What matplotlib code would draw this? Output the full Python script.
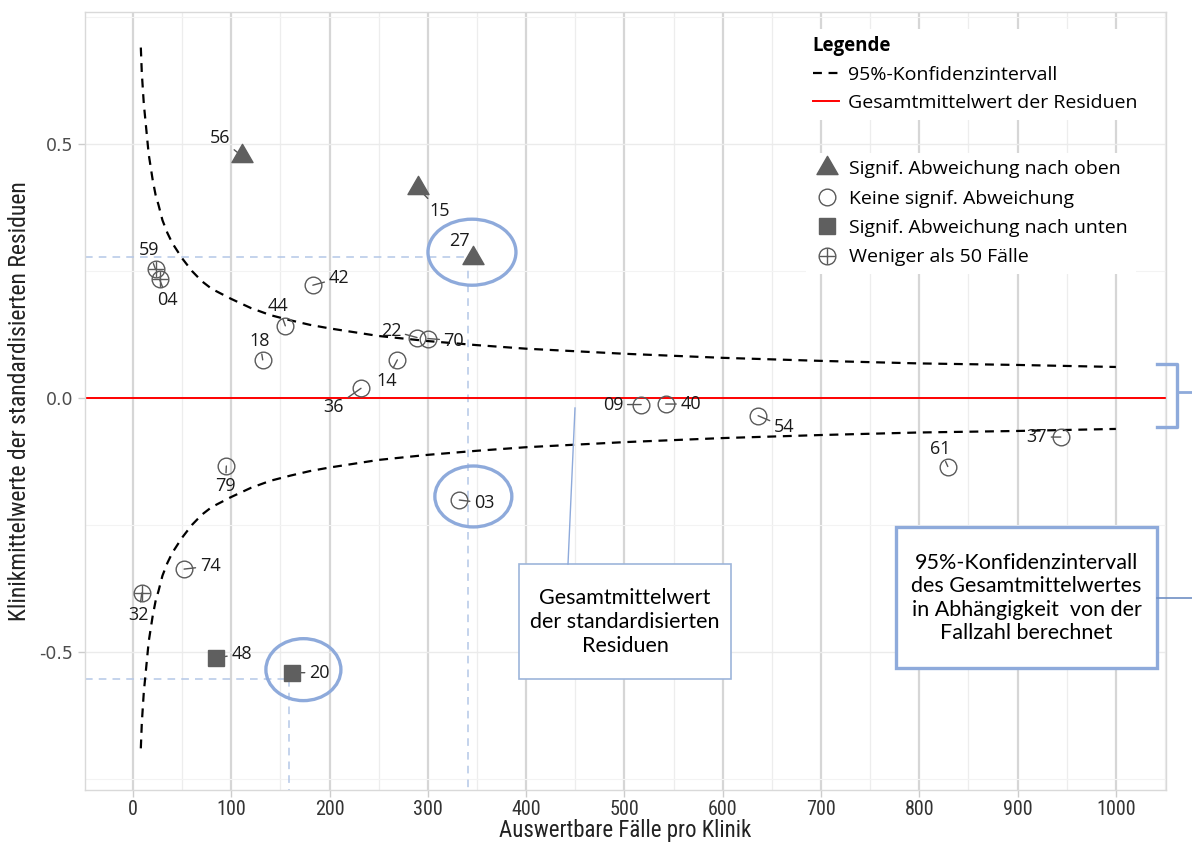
import matplotlib
matplotlib.use("Agg")
import matplotlib.pyplot as plt
from matplotlib.lines import Line2D
from matplotlib.patches import Ellipse, Rectangle
from matplotlib.path import Path
from matplotlib.legend_handler import HandlerTuple
from matplotlib import font_manager

# verfuegbare Schriften
vorhanden = {f.name for f in font_manager.fontManager.ttflist}


def waehle(*namen):
    for n in namen:
        if n in vorhanden:
            return n
    return "DejaVu Sans"


schrift = waehle("Open Sans", "Noto Sans")
box_schrift = waehle("Lato", "Open Sans")
schmal = waehle("Liberation Sans Narrow", "Roboto Condensed", "Open Sans Condensed", "Liberation Sans")

# Daten: Kliniken
klinik = ["56", "15", "27", "59", "04", "42", "44", "18", "22", "70", "14", "36",
          "09", "40", "54", "61", "37", "79", "03", "74", "32", "48", "20"]
faelle = [111, 290, 346, 23, 27, 183, 155, 132, 289, 300, 269, 232,
          517, 542, 636, 829, 944, 95, 332, 52, 9, 84, 162]
residuen = [0.476, 0.413, 0.276, 0.253, 0.234, 0.222, 0.142, 0.075, 0.119, 0.117, 0.075, 0.019,
            -0.013, -0.012, -0.035, -0.135, -0.077, -0.134, -0.201, -0.337, -0.384, -0.512, -0.541]
gruppe = ["oben", "oben", "oben", "wenig", "wenig", "keine", "keine", "keine", "keine", "keine", "keine", "keine",
          "keine", "keine", "keine", "keine", "keine", "keine", "keine", "keine", "wenig", "unten", "unten"]

# 95%-Konfidenzintervall
ci_n = [8, 9, 10, 11, 12, 14, 16, 18, 20, 23, 26, 30, 35, 40, 45, 50, 60, 70, 80, 90, 100,
        120, 140, 160, 180, 200, 250, 300, 350, 400, 500, 600, 700, 800, 900, 1000]
ci_oben = [0.69, 0.64, 0.61, 0.58, 0.56, 0.52, 0.48, 0.455, 0.43, 0.40, 0.38, 0.35, 0.325, 0.305,
           0.29, 0.275, 0.25, 0.23, 0.215, 0.205, 0.195, 0.177, 0.163, 0.153, 0.144, 0.137,
           0.122, 0.112, 0.104, 0.097, 0.087, 0.079, 0.073, 0.068, 0.065, 0.061]
ci_unten = [-0.69, -0.64, -0.61, -0.58, -0.56, -0.52, -0.48, -0.455, -0.43, -0.40, -0.38, -0.35, -0.325, -0.305,
            -0.29, -0.275, -0.25, -0.23, -0.215, -0.205, -0.195, -0.177, -0.163, -0.153, -0.144, -0.137,
            -0.122, -0.112, -0.104, -0.097, -0.087, -0.079, -0.073, -0.068, -0.065, -0.061]
gesamtmittel = 0.0

x_ticks = [0, 100, 200, 300, 400, 500, 600, 700, 800, 900, 1000]
y_ticks = [-0.5, 0.0, 0.5]
y_tick_labels = ["-0.5", "0.0", "0.5"]

# Versatz der Beschriftungen in Pixeln
versatz = {"56": (-22, 18), "15": (22, -23), "27": (-14, 17), "59": (-7, 19), "04": (8, -21),
           "42": (26, 7), "44": (-7, 20), "18": (-3, 19), "22": (-26, 7), "70": (26, -2),
           "14": (-11, -21), "36": (-27, -19), "09": (-28, 0), "40": (25, 0), "54": (26, -11),
           "61": (-8, 18), "37": (-24, 0), "79": (-1, -20), "03": (25, -3), "74": (26, 3),
           "32": (-3, -22), "48": (26, 4), "20": (27, 0)}

W, H = 1192, 843
fig = plt.figure(figsize=(W / 100, H / 100), dpi=100)
ax = fig.add_axes([85 / W, 1 - 790 / H, (1166 - 85) / W, (790 - 12) / H])
ax.set_xlim(-48.8, 1051)
ax.set_ylim(-0.772, 0.760)

# Gitter
ax.set_xticks(x_ticks)
ax.set_xticks([50 + 100 * i for i in range(11)], minor=True)
ax.set_yticks(y_ticks)
ax.set_yticklabels(y_tick_labels)
ax.set_yticks([-0.75, -0.25, 0.25, 0.75], minor=True)
ax.grid(which="major", axis="x", color="#d6d6d6", lw=1.6)
ax.grid(which="minor", axis="x", color="#ededed", lw=0.9)
ax.grid(which="major", axis="y", color="#ebebeb", lw=1.0)
ax.grid(which="minor", axis="y", color="#f3f3f3", lw=0.8)
ax.set_axisbelow(True)
for s in ax.spines.values():
    s.set_color("#d9d9d9")
    s.set_linewidth(1)
ax.tick_params(which="major", color="#cccccc", length=5, width=1)
ax.tick_params(which="minor", length=0)
ax.tick_params(axis="y", labelsize=12.5, labelcolor="#4d4d4d")
ax.tick_params(axis="x", labelsize=14.5, labelcolor="#333333", pad=2)
for t in ax.get_xticklabels():
    t.set_family(schmal)
ax.set_xlabel("Auswertbare Fälle pro Klinik", family=schmal, fontsize=16.5, color="#222222", labelpad=0)
ax.set_ylabel("Klinikmittelwerte der standardisierten Residuen", family=schmal, fontsize=17,
              color="#222222", labelpad=6)

# Linien
ax.axhline(gesamtmittel, color="red", lw=1.4, zorder=2)
ax.plot(ci_n, ci_oben, color="black", ls=(0, (4, 3)), lw=1.6, zorder=2)
ax.plot(ci_n, ci_unten, color="black", ls=(0, (4, 3)), lw=1.6, zorder=2)

# Hilfslinien (hellblau gestrichelt)
hb = "#b4c7e7"
ax.plot([-48.8, 346], [0.277, 0.277], color=hb, ls=(0, (5, 4)), lw=1.1, zorder=1.5)
ax.plot([341, 341], [0.277, -0.772], color=hb, ls=(0, (5, 4)), lw=1.1, zorder=1.5)
ax.plot([-48.8, 158.6], [-0.553, -0.553], color=hb, ls=(0, (5, 4)), lw=1.1, zorder=1.5)
ax.plot([158.6, 158.6], [-0.553, -0.772], color=hb, ls=(0, (5, 4)), lw=1.1, zorder=1.5)

# Punkte
grau = "#5f5f5f"
dreieck = Path([(-1, -0.577), (1, -0.577), (0, 1.155), (-1, -0.577)],
               [Path.MOVETO, Path.LINETO, Path.LINETO, Path.CLOSEPOLY])
for i in range(len(klinik)):
    x, y = faelle[i], residuen[i]
    dx, dy = versatz[klinik[i]]
    ax.annotate(klinik[i], xy=(x, y), xytext=(dx, dy), textcoords="offset pixels",
                ha="center", va="center", fontsize=13, family=schrift, color="#1a1a1a",
                arrowprops=dict(arrowstyle="-", color="#555555", lw=1, shrinkA=1, shrinkB=0),
                zorder=3)
    g = gruppe[i]
    if g == "oben":
        ax.plot(x, y, marker=dreieck, ms=17.5, color=grau, ls="none", zorder=4)
    elif g == "unten":
        ax.plot(x, y, marker="s", ms=11.5, color=grau, ls="none", zorder=4)
    else:
        ax.plot(x, y, marker="o", ms=12, mfc="none", mec="#5a5a5a", mew=1.0, ls="none", zorder=4)
        if g == "wenig":
            ax.plot(x, y, marker="+", ms=12, mec="#5a5a5a", mew=1.0, ls="none", zorder=4)

# blaue Ellipsen
blau = "#8eaadb"
for (cx, cy, w, h) in [(344.9, 0.287, 89.5, 0.130), (346.3, -0.194, 78.3, 0.120), (173.4, -0.535, 76.3, 0.122)]:
    ax.add_patch(Ellipse((cx, cy), w, h, fill=False, ec=blau, lw=2.4, zorder=5))


def fx(px):
    return px / W


def fy(py):
    return 1 - py / H


# Kasten Gesamtmittelwert
fig.add_artist(Line2D([fx(575), fx(568)], [fy(408), fy(564)], color=blau, lw=1.0))
fig.add_artist(Rectangle((fx(519), fy(679)), fx(731) - fx(519), fy(564) - fy(679),
                         transform=fig.transFigure, fc="white", ec="#9db5da", lw=1.2))
fig.text(fx(625), fy(622), "Gesamtmittelwert\nder standardisierten\nResiduen", ha="center", va="center",
         fontsize=15.5, family=box_schrift, linespacing=1.25, color="black")

# Kasten Konfidenzintervall
fig.add_artist(Line2D([fx(1157), fx(1192)], [fy(598), fy(598)], color="#6f8fc4", lw=1.2))
fig.add_artist(Rectangle((fx(896), fy(668)), fx(1157) - fx(896), fy(527) - fy(668),
                         transform=fig.transFigure, fc="white", ec=blau, lw=2.4))
fig.text(fx(1026.5), fy(598), "95%-Konfidenzintervall\ndes Gesamtmittelwertes\nin Abhängigkeit  von der\nFallzahl berechnet",
         ha="center", va="center", fontsize=15.5, family=box_schrift, linespacing=1.2, color="black")

# Klammer rechts
fig.add_artist(Line2D([fx(1157), fx(1177), fx(1177), fx(1157)], [fy(364), fy(364), fy(427), fy(427)],
                      color=blau, lw=2.4))
fig.add_artist(Line2D([fx(1177), fx(1192)], [fy(392), fy(392)], color=blau, lw=2.0))

# Legende
h_ci = Line2D([], [], color="black", ls=(0, (4, 3)), lw=1.6)
h_mw = Line2D([], [], color="red", lw=1.4)
leg1 = fig.legend([h_ci, h_mw], ["95%-Konfidenzintervall", "Gesamtmittelwert der Residuen"],
                  title="Legende", loc="upper left", bbox_to_anchor=(fx(795), fy(19)),
                  frameon=True, fancybox=False, framealpha=1, edgecolor="none",
                  prop=dict(family=schrift, size=14), title_fontproperties=dict(family=schrift, size=13.5, weight="bold"),
                  alignment="left", handlelength=1.35, handletextpad=0.5, labelspacing=0.5, borderpad=0.4)
fig.add_artist(leg1)

h_ob = Line2D([], [], marker=dreieck, ms=17.5, color=grau, ls="none")
h_ke = Line2D([], [], marker="o", ms=12, mfc="none", mec="#5a5a5a", mew=1.0, ls="none")
h_un = Line2D([], [], marker="s", ms=11.5, color=grau, ls="none")
h_we1 = Line2D([], [], marker="o", ms=12, mfc="none", mec="#5a5a5a", mew=1.0, ls="none")
h_we2 = Line2D([], [], marker="+", ms=12, mec="#5a5a5a", mew=1.0, ls="none")
leg2 = fig.legend([h_ob, h_ke, h_un, (h_we1, h_we2)],
                  ["Signif. Abweichung nach oben", "Keine signif. Abweichung",
                   "Signif. Abweichung nach unten", "Weniger als 50 Fälle"],
                  handler_map={tuple: HandlerTuple(ndivide=1)},
                  loc="upper left", bbox_to_anchor=(fx(796), fy(143)),
                  frameon=True, fancybox=False, framealpha=1, edgecolor="none",
                  prop=dict(family=schrift, size=14), handlelength=1.4, handletextpad=0.45,
                  labelspacing=0.58, borderpad=0.4)

fig.savefig("out.png", dpi=100)
